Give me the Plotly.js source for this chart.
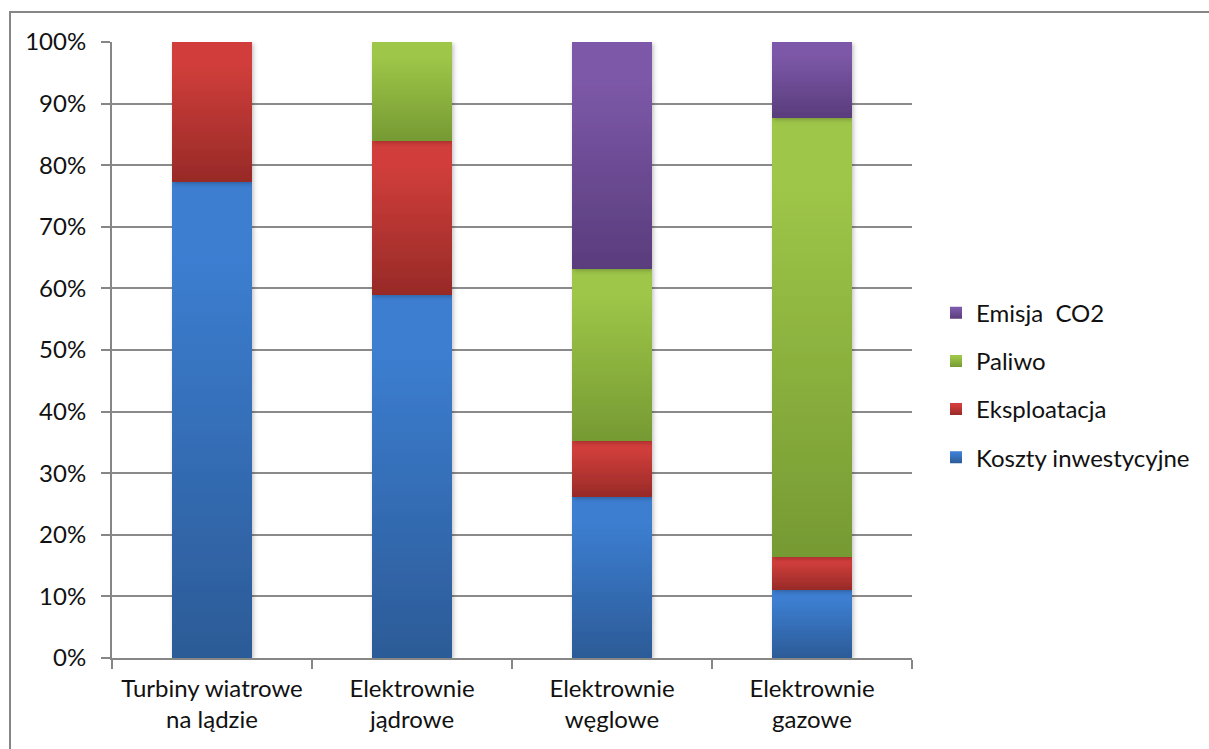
<!DOCTYPE html>
<html>
<head>
<meta charset="utf-8">
<script src="https://cdn.plot.ly/plotly-3.0.1.min.js"></script>
<style>
  html, body { margin: 0; padding: 0; background: #fff; }
  #wrap { position: relative; width: 1209px; height: 749px; overflow: hidden; }
  #chart { position: absolute; left: 0; top: 0; width: 1209px; height: 749px; }
  #frame { position: absolute; left: 9px; top: 11px; width: 1300px; height: 800px;
           border-left: 2px solid #868686; border-top: 2px solid #868686; pointer-events: none; }
</style>
</head>
<body>
<div id="wrap">
  <div id="chart"></div>
  <div id="frame"></div>
</div>
<script>
// Cost structure of electricity generation by technology (share of total, %)
const categories = ['Turbiny wiatrowe<br>na lądzie', 'Elektrownie<br>jądrowe', 'Elektrownie<br>węglowe', 'Elektrownie<br>gazowe'];
const kosztyInwestycyjne = [77.3, 58.9, 26.1, 11.0];
const eksploatacja = [22.7, 25.0, 9.1, 5.4];
const paliwo = [0, 16.1, 27.9, 71.3];
const emisjaCO2 = [0, 0, 36.9, 12.3];
const seriesNames = ['Koszty inwestycyjne', 'Eksploatacja', 'Paliwo', 'Emisja  CO2'];
const yTicks = [0, 10, 20, 30, 40, 50, 60, 70, 80, 90, 100];

// Base colour plus top/bottom gradient stops for each series
const palette = [
  { base: 'rgb(52, 110, 185)', top: '#3c7ed1', bottom: '#2c5b97' },
  { base: 'rgb(190, 55, 52)', top: '#d13e3b', bottom: '#972a27' },
  { base: 'rgb(140, 180, 64)', top: '#9ec648', bottom: '#769a33' },
  { base: 'rgb(110, 78, 150)', top: '#7d59a9', bottom: '#5a3c7c' }
];

const values = [kosztyInwestycyjne, eksploatacja, paliwo, emisjaCO2];
const font = 'Lato, "Open Sans", sans-serif';
const textColor = '#111';

const data = values.map((v, i) => ({
  type: 'bar',
  name: seriesNames[i],
  x: categories,
  y: v,
  width: 0.4,
  legendgroup: 'g' + i,
  legendrank: 1000 - i,
  marker: { color: palette[i].base, line: { width: 0 } },
  hoverinfo: 'skip'
}));

const layout = {
  width: 1209,
  height: 749,
  margin: { l: 112, r: 297, t: 42, b: 91 },
  paper_bgcolor: '#ffffff',
  plot_bgcolor: '#ffffff',
  barmode: 'stack',
  font: { family: font, size: 24, color: textColor },
  showlegend: true,
  legend: {
    x: 1.03, xanchor: 'left', y: 0.443, yanchor: 'middle',
    traceorder: 'grouped',
    tracegroupgap: 14,
    itemwidth: 30,
    font: { family: font, size: 24, color: textColor },
    bgcolor: 'rgba(0,0,0,0)'
  },
  xaxis: {
    type: 'category',
    showline: true, linecolor: '#868686', linewidth: 2,
    ticks: 'outside', tickson: 'boundaries', ticklen: 9, tickcolor: '#868686', tickwidth: 2,
    ticklabelstandoff: 8,
    showgrid: false, zeroline: false,
    tickfont: { family: font, size: 24, color: textColor },
    fixedrange: true
  },
  yaxis: {
    range: [0, 100],
    tickvals: yTicks,
    ticktext: yTicks.map(t => t + '%'),
    showline: true, linecolor: '#868686', linewidth: 2,
    ticks: 'outside', ticklen: 9, tickcolor: '#868686', tickwidth: 2,
    ticklabelstandoff: 10,
    showgrid: true, gridcolor: '#8a8a8a', gridwidth: 2,
    zeroline: false,
    tickfont: { family: font, size: 24, color: textColor },
    fixedrange: true
  }
};

const SVGNS = 'http://www.w3.org/2000/svg';

function addDefs(svg) {
  let defs = svg.querySelector('defs');
  if (!defs) { defs = document.createElementNS(SVGNS, 'defs'); svg.insertBefore(defs, svg.firstChild); }
  palette.forEach((p, i) => {
    const g = document.createElementNS(SVGNS, 'linearGradient');
    g.setAttribute('id', 'segfill' + i);
    g.setAttribute('x1', '0'); g.setAttribute('y1', '0');
    g.setAttribute('x2', '0'); g.setAttribute('y2', '1');
    [[0, p.top], [0.15, p.top], [1, p.bottom]].forEach(([o, c]) => {
      const s = document.createElementNS(SVGNS, 'stop');
      s.setAttribute('offset', o);
      s.setAttribute('stop-color', c);
      g.appendChild(s);
    });
    defs.appendChild(g);
  });
  const f = document.createElementNS(SVGNS, 'filter');
  f.setAttribute('id', 'barshadow');
  f.setAttribute('x', '-20%'); f.setAttribute('y', '-5%');
  f.setAttribute('width', '140%'); f.setAttribute('height', '110%');
  const ds = document.createElementNS(SVGNS, 'feDropShadow');
  ds.setAttribute('dx', '1.5'); ds.setAttribute('dy', '1.5');
  ds.setAttribute('stdDeviation', '2');
  ds.setAttribute('flood-color', '#000');
  ds.setAttribute('flood-opacity', '0.25');
  f.appendChild(ds);
  defs.appendChild(f);
}

function normalise(c) { return (c || '').replace(/\s+/g, ''); }

function applyGradients(gd) {
  const svg = gd.querySelector('.main-svg');
  addDefs(svg);
  const lookup = {};
  palette.forEach((p, i) => { lookup[normalise(p.base)] = i; });
  const paint = (path) => {
    const idx = lookup[normalise(path.style.fill)];
    if (idx !== undefined) path.style.fill = 'url(#segfill' + idx + ')';
  };
  gd.querySelectorAll('.barlayer .trace').forEach(t => {
    t.setAttribute('filter', 'url(#barshadow)');
    t.querySelectorAll('path').forEach(paint);
  });
  gd.querySelectorAll('.legend .legendpoints path').forEach(paint);
}

Plotly.newPlot('chart', data, layout, { displayModeBar: false, staticPlot: true })
  .then(applyGradients);
</script>
</body>
</html>
